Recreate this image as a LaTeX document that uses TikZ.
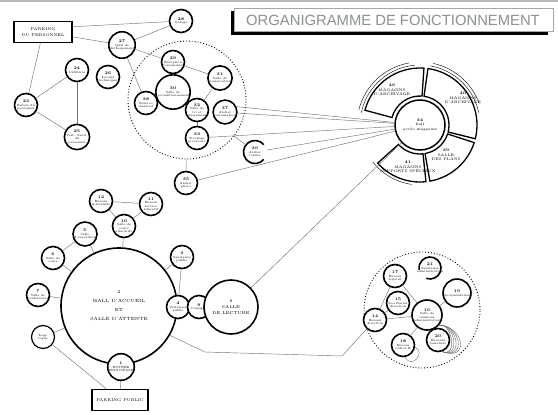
\documentclass[tikz,border=0pt]{standalone}
\usepackage{fontspec}
\newfontfamily\titlefont{Liberation Sans}
\usetikzlibrary{calc}
\definecolor{LinkClr}{rgb}{0.45,0.45,0.45}
\definecolor{TitleClr}{rgb}{0.55,0.57,0.57}
\newcommand\rno[1]{{\fontsize{4}{4}\selectfont\bfseries #1}}

\begin{document}
\begin{tikzpicture}[x=1pt,y=-1pt,
  room/.style={circle,draw,line width=1.6pt,fill=white,inner sep=0pt,minimum size=23pt,align=center,font=\fontsize{3}{3.4}\selectfont},
  park/.style={draw,line width=1.7pt,fill=white,minimum width=58pt,minimum height=21pt,align=center,font=\fontsize{4}{5.5}\selectfont},
  zone/.style={circle,draw,dotted,line width=0.9pt,inner sep=0pt},
  link/.style={draw=LinkClr,line width=0.45pt},
  sector/.style={draw,line width=1.3pt,fill=white},
  tag/.style={align=center,font=\fontsize{3.8}{4.6}\selectfont}]
\useasboundingbox (0,0) rectangle (558,415);
\draw[gray!55,line width=1.5pt] (0,1) -- (558,1);

% title
\fill[black] (231,11) rectangle (548,35);
\draw[gray!70,fill=white,line width=0.5pt] (234,8) rectangle (553,31);
\node[text=TitleClr,font=\titlefont\fontsize{14.8}{14.8}\selectfont] (title) at (393,20) {ORGANIGRAMME DE FONCTIONNEMENT};

% zones
\node[zone,minimum size=118pt] (zone1) at (187,100) {};
\node[zone,minimum size=116pt] (zone2) at (422,310) {};

% personnel
\node[park] (park1) at (43,32) {PARKING\\DU PERSONNEL};
\node[room] (c28) at (181,21) {\rno{28}\\Garage};
\node[room] (c27) at (122,45) {\rno{27}\\Quai de\\déchargement};
\node[room] (c24) at (77,70) {\rno{24}\\Cafétéria};
\node[room] (c26) at (108,77) {\rno{26}\\Locaux\\techniques};
\node[room] (c23) at (26,105) {\rno{23}\\Entrée du\\personnel};
\node[room] (c25) at (77,137) {\rno{25}\\Vest. Sanit.\\du\\personnel};
\node[room] (c38) at (146,103) {\rno{38}\\Réserve\\matériel};

% traitement
\node[room] (c29) at (173,62) {\rno{29}\\Réception\\versements};
\node[room] (c31) at (220,78) {\rno{31}\\Salle de\\conservation};
\node[room] (c30) at (173,92) {\rno{30}\\Salle de\\reconditionnement};
\node[room] (c32) at (197,110) {\rno{32}\\Salle de\\tri et\\classement};
\node[room] (c37) at (225,112) {\rno{37}\\Atelier\\restauration};
\node[room] (c33) at (197,138) {\rno{33}\\Stockage\\provisoire};
\node[room,draw=none] (c36) at (255,152) {\rno{36}\\Atelier\\reliure};
\begin{scope}[shift={(255,152)},yscale=-1]
  \draw[line width=1.6pt] (40:11.5) arc[start angle=40,end angle=320,radius=11.5];
\end{scope}
\node[room] (c35) at (186,183) {\rno{35}\\Atelier\\photo};

% magasins
\begin{scope}[shift={(420,125)},yscale=-1]
  \draw[sector] (86:29) arc[start angle=86,end angle=165,radius=29] -- (165:57) arc[start angle=165,end angle=86,radius=57] -- cycle;
  \draw[sector] (-14:29) arc[start angle=-14,end angle=82,radius=29] -- (82:57) arc[start angle=82,end angle=-14,radius=57] -- cycle;
  \draw[sector] (-80:29) arc[start angle=-80,end angle=-18,radius=29] -- (-18:57) arc[start angle=-18,end angle=-80,radius=57] -- cycle;
  \draw[sector] (-138:29) arc[start angle=-138,end angle=-84,radius=29] -- (-84:57) arc[start angle=-84,end angle=-138,radius=57] -- cycle;
  \draw[line width=0.4pt] (95:60) arc[start angle=95,end angle=168,radius=60];
  \draw[line width=0.4pt] (100:63) arc[start angle=100,end angle=166,radius=63];
  \draw[line width=0.4pt] (12:60) arc[start angle=12,end angle=80,radius=60];
  \draw[line width=0.4pt] (20:63) arc[start angle=20,end angle=78,radius=63];
  \draw[line width=0.4pt] (-98:60) arc[start angle=-98,end angle=-142,radius=60];
\end{scope}
\node[room,line width=1.5pt,minimum size=50pt,font=\fontsize{3.8}{4.6}\selectfont] (c34) at (420,125) {\rno{34}\\hall\\accès\enspace magasins};
\node[tag] (t46) at (392,90) {\rno{46}\\MAGASINS\\D'ARCHIVAGE};
\node[tag] (t40) at (463,98) {\rno{40}\\MAGASINS\\D'ARCHIVAGE};
\node[tag] (t39) at (446,155) {\rno{39}\\SALLE\\DES\enspace PLANS};
\node[tag] (t41) at (408,167) {\rno{41}\\MAGASINS\\SUPPORTS\enspace SPÉCIAUX};

% accueil
\node[room,line width=1.6pt,minimum size=116pt,font=\fontsize{4.5}{9}\selectfont] (c2) at (119,306) {2\\HALL\enspace D'ACCUEIL\\ET\\SALLE\enspace D'ATTENTE};
\node[room] (c12) at (101,201) {\rno{12}\\Bureau\\spécialiste};
\node[room] (c11) at (151,204) {\rno{11}\\Bureau\\service\\éducatif};
\node[room] (c10) at (124,226) {\rno{10}\\Salle de\\cours\\éducatifs};
\node[room] (c5) at (85,234) {\rno{5}\\Salle\\d'exposition};
\node[room] (c6) at (53,258) {\rno{6}\\Salle de\\cours};
\node[room] (c7) at (38,295) {\rno{7}\\Salle de\\conférences};
\node[room] (c3) at (182,257) {\rno{3}\\Sanitaires\\public};
\node[room] (c4) at (178,307) {\rno{4}\\Vestiaires\\public};
\node[room] (c9) at (199,307) {\rno{9}\\Consigne};
\node[room,minimum size=54pt,font=\fontsize{4.2}{5.5}\selectfont] (c8) at (231,307) {8\\[1pt]SALLE\\DE\enspace LECTURE};
\node[room,line width=1.2pt] (loge) at (43,337) {Loge\\vigile};
\node[room] (c1) at (121,367) {\rno{1}\\ENTRÉE\\PRINCIPALE};
\node[park,minimum width=56pt] (park2) at (120,400) {PARKING\enspace PUBLIC};

% administration
\node[room] (c17) at (395,276) {\rno{17}\\Bureau\\adjoint};
\node[room,draw=none] (c21) at (430,268) {\rno{21}\\Sanitaires\\administration};
\begin{scope}[shift={(430,268)},yscale=-1]
  \draw[line width=1.6pt] (-110:11) arc[start angle=-110,end angle=190,radius=11];
\end{scope}
\node[room] (c19) at (457,293) {\rno{19}\\Documentation};
\node[room] (c15) at (398,303) {\rno{15}\\Secrétariat\\direction};
\node[room,minimum size=30pt] (c16) at (427,315) {\rno{16}\\Salle de\\réunions\\administration};
\node[room] (c14) at (375,320) {\rno{14}\\Bureau\\direction};
\node[room] (c18) at (403,345) {\rno{18}\\Bureau\\cadres B};
\node[room] (c20) at (438,340) {\rno{20}\\Bureaux\\banalisés};

% liaisons
\draw[link] (park1) -- (c23);
\draw[link] (park1.10) -- (c28);
\draw[link] (park1) -- (c27);
\draw[link] (c27) -- (c28);
\draw[link] (c23) -- (c24);
\draw[link] (c23) -- (c25);
\draw[link] (c24) -- (c25);
\draw[link] (c27) -- (c38);
\draw[link] (c27) -- (c29);
\draw[link] (c29) -- (c31);
\draw[link] (c29) -- (c30);
\draw[link] (c30) -- (c32);
\draw[link] (c31) -- (c32);
\draw[link] (c32) -- (c33);
\draw[link] (zone1) -- (c36);
\draw[link] (zone1) -- (c35);
\draw[link] (c37.25) -- (c34);
\draw[link] (c37.-5) -- (c34);
\draw[link] (c33) -- (c34);
\draw[link] (c36) -- (c34);
\draw[link] (c35) -- (c34);
\draw[link] (c8) -- (c34);

\draw[link] (c2) -- (c5);
\draw[link] (c2) -- (c6);
\draw[link] (c2) -- (c7);
\draw[link] (c2) -- (c10);
\draw[link] (c2) -- (c3);
\draw[link] (c3) -- (c4);
\draw[link] (c6) -- (c5);
\draw[link] (c10) -- (c12);
\draw[link] (c10) -- (c11);
\draw[link] (c12) -- (c11);
\draw[link] (loge) -- (c2);
\draw[link] (loge) -- (park2);
\draw[link] (c1) -- (park2);
\coordinate (bendA) at (205,352);
\coordinate (bendB) at (342,356);
\draw[link] (c2.-30) -- (bendA) -- (bendB) -- (c14);

\draw[link] (c14) -- (c17);
\draw[link] (c14) -- (c15);
\draw[link] (c17) -- (c16);
\draw[link] (c14) -- (c16);
\draw[link] (c16) -- (c19);
\draw[link] (c16) -- (c18);
\draw[link] (c16) -- (c20);
\foreach \k in {0,...,4}
  \draw[link] (c16.-40) .. controls ({452+3*\k},{322+\k}) and ({458+3*\k},{358+\k}) .. (c20.-70);
\draw[link] (c18.-80) .. controls (412,370) and (426,352) .. (c18.-10);

\end{tikzpicture}
\end{document}
